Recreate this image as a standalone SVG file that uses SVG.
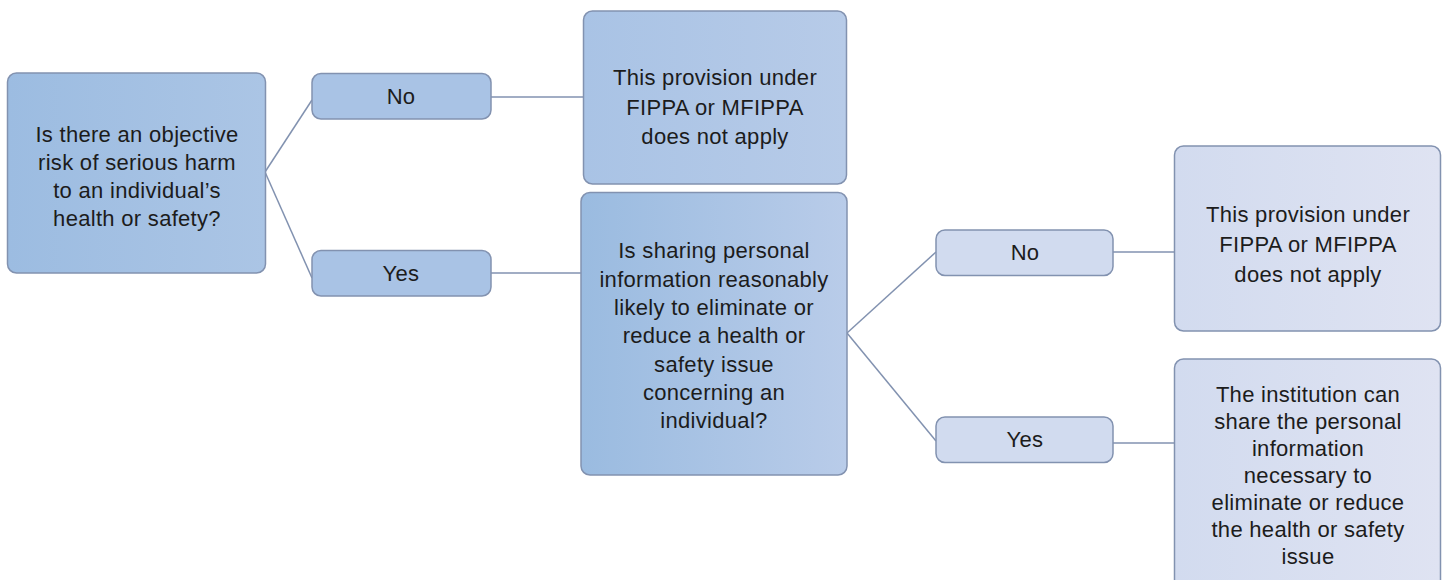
<svg xmlns="http://www.w3.org/2000/svg" width="1445" height="580" viewBox="0 0 1445 580">
  <defs>
    <linearGradient id="gDark" x1="0" y1="0" x2="1" y2="0">
      <stop offset="0" stop-color="#9cbce1"/>
      <stop offset="1" stop-color="#abc5e5"/>
    </linearGradient>
    <linearGradient id="gMid" x1="0" y1="0" x2="1" y2="0">
      <stop offset="0" stop-color="#a9c3e5"/>
      <stop offset="1" stop-color="#b7cbe8"/>
    </linearGradient>
    <linearGradient id="gQ" x1="0" y1="0" x2="1" y2="0">
      <stop offset="0" stop-color="#9abbe0"/>
      <stop offset="1" stop-color="#b9cce9"/>
    </linearGradient>
    <linearGradient id="gLight" x1="0" y1="0" x2="1" y2="0">
      <stop offset="0" stop-color="#d2dbef"/>
      <stop offset="1" stop-color="#dfe3f2"/>
    </linearGradient>
  </defs>
  <style>
    .box { stroke: #8292b0; stroke-width: 1.5; }
    .lbl { font-family: "Liberation Sans", Arial, sans-serif; font-size: 22px; letter-spacing: 0.3px; fill: #1c1c1c; text-anchor: middle; }
    .conn line { stroke: #8292b0; stroke-width: 1.5; fill: none; }
  </style>
  <rect width="1445" height="580" fill="#ffffff"/>

  <!-- connectors -->
  <g id="connectors" class="conn">
    <line x1="265" y1="172" x2="312" y2="100"/>
    <line x1="265" y1="172" x2="312" y2="278"/>
    <line x1="491" y1="97" x2="583" y2="97"/>
    <line x1="491" y1="273" x2="581" y2="273"/>
    <line x1="847" y1="333" x2="936" y2="252"/>
    <line x1="847" y1="333" x2="936" y2="441"/>
    <line x1="1113" y1="252" x2="1174" y2="252"/>
    <line x1="1113" y1="443" x2="1174" y2="443"/>
  </g>

  <g id="q1">
    <rect class="box" x="7.5" y="73" width="258" height="200" rx="9" fill="url(#gDark)"/>
    <text class="lbl" x="137" y="142">Is there an objective</text>
    <text class="lbl" x="137" y="170">risk of serious harm</text>
    <text class="lbl" x="137" y="198">to an individual’s</text>
    <text class="lbl" x="137" y="226">health or safety?</text>
  </g>

  <g id="no1">
    <rect class="box" x="312" y="73.5" width="179" height="45.5" rx="9" fill="#a9c3e5"/>
    <text class="lbl" x="401" y="104">No</text>
  </g>

  <g id="yes1">
    <rect class="box" x="312" y="250.5" width="179" height="45.5" rx="9" fill="#a9c3e5"/>
    <text class="lbl" x="401" y="281">Yes</text>
  </g>

  <g id="na1">
    <rect class="box" x="583.5" y="11" width="263" height="173" rx="9" fill="url(#gMid)"/>
    <text class="lbl" x="715" y="85">This provision under</text>
    <text class="lbl" x="715" y="114.5">FIPPA or MFIPPA</text>
    <text class="lbl" x="715" y="144">does not apply</text>
  </g>

  <g id="q2">
    <rect class="box" x="581" y="192.5" width="266" height="282.5" rx="9" fill="url(#gQ)"/>
    <text class="lbl" x="714" y="258">Is sharing personal</text>
    <text class="lbl" x="714" y="286.5">information reasonably</text>
    <text class="lbl" x="714" y="315">likely to eliminate or</text>
    <text class="lbl" x="714" y="343">reduce a health or</text>
    <text class="lbl" x="714" y="371.5">safety issue</text>
    <text class="lbl" x="714" y="400">concerning an</text>
    <text class="lbl" x="714" y="428">individual?</text>
  </g>

  <g id="no2">
    <rect class="box" x="936" y="230" width="177" height="45.5" rx="9" fill="#d1dbef"/>
    <text class="lbl" x="1025" y="260">No</text>
  </g>

  <g id="yes2">
    <rect class="box" x="936" y="417" width="177" height="45.5" rx="9" fill="#d1dbef"/>
    <text class="lbl" x="1025" y="447">Yes</text>
  </g>

  <g id="na2">
    <rect class="box" x="1174.5" y="146" width="266" height="185" rx="9" fill="url(#gLight)"/>
    <text class="lbl" x="1308" y="222">This provision under</text>
    <text class="lbl" x="1308" y="252">FIPPA or MFIPPA</text>
    <text class="lbl" x="1308" y="282">does not apply</text>
  </g>

  <g id="share">
    <rect class="box" x="1174.5" y="359" width="266" height="240" rx="9" fill="url(#gLight)"/>
    <text class="lbl" x="1308" y="402">The institution can</text>
    <text class="lbl" x="1308" y="429">share the personal</text>
    <text class="lbl" x="1308" y="456">information</text>
    <text class="lbl" x="1308" y="483">necessary to</text>
    <text class="lbl" x="1308" y="510">eliminate or reduce</text>
    <text class="lbl" x="1308" y="537">the health or safety</text>
    <text class="lbl" x="1308" y="564">issue</text>
  </g>
</svg>
